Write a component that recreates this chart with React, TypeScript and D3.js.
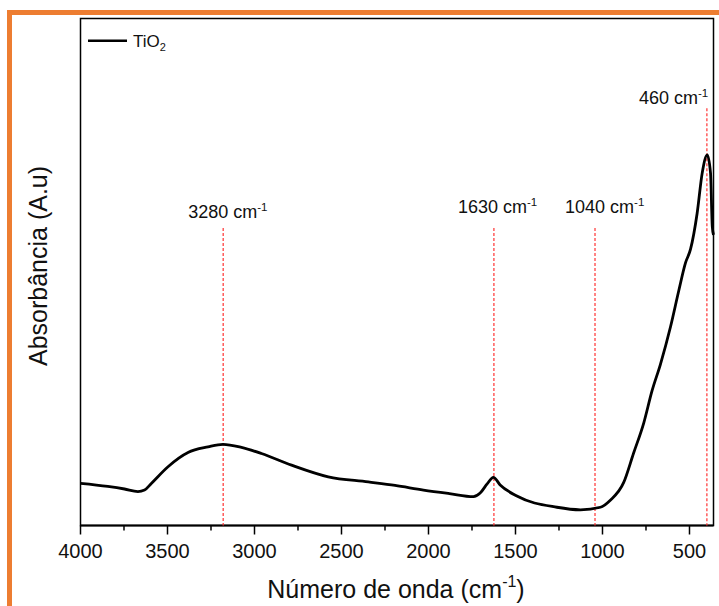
import React from "react";
import * as d3 from "d3";

// Spectrum: wavenumber (cm-1) and absorbance (a.u.)
const wavenumber = [
  4000, 3843, 3747, 3670, 3632, 3593, 3497, 3382, 3267, 3181, 3075, 2960, 2787, 2576, 2346, 2192,
  2029, 1880, 1742, 1703, 1663, 1627, 1588, 1492, 1262, 1127, 1012, 955, 878, 821, 763, 715, 667,
  609, 561, 523, 494, 456, 427, 398, 379, 369, 362,
];
const absorbance = [
  0.083, 0.077, 0.072, 0.067, 0.070, 0.083, 0.116, 0.144, 0.155, 0.160, 0.154, 0.142, 0.119, 0.096,
  0.086, 0.079, 0.070, 0.063, 0.057, 0.064, 0.082, 0.095, 0.080, 0.058, 0.036, 0.031, 0.036, 0.050,
  0.085, 0.143, 0.202, 0.266, 0.318, 0.392, 0.464, 0.518, 0.545, 0.616, 0.695, 0.731, 0.695, 0.590,
  0.573,
];

const seriesName = "TiO";
const seriesSub = "2";

// Marked bands (label text, where the dashed line is drawn, top of the line)
const bandLabels = ["3280", "1630", "1040", "460"];
const bandPositions = [3180, 1624, 1043, 400];
const bandTops = [0.587, 0.587, 0.587, 0.823];
// label placement relative to line (pixels)
const bandLabelDx = [-35, -36, -30, -68];
const bandLabelDy = [-10, -15, -15, -4];

const xTicks = [4000, 3500, 3000, 2500, 2000, 1500, 1000, 500];
const xMinorTicks = [3750, 3250, 2750, 2250, 1750, 1250, 750];

const W = 719;
const H = 606;
const M = { left: 80.5, right: 713.5, top: 18.5, bottom: 525.5 };
const FONT = "'Liberation Sans', Arial, sans-serif";

export default function App() {
  React.useEffect(() => {
    document.body.style.margin = "0";
  }, []);

  const x = d3.scaleLinear().domain([4000, 362]).range([M.left, M.right]);
  const y = d3.scaleLinear().domain([0, 1]).range([M.bottom, M.top]);

  const pts: [number, number][] = wavenumber.map((w, i) => [w, absorbance[i]]);
  const line = d3
    .line<[number, number]>()
    .x((d) => x(d[0]))
    .y((d) => y(d[1]))
    .curve(d3.curveMonotoneX);

  const orange = "#ED7D31";

  return (
    <svg
      width={W}
      height={H}
      style={{ position: "absolute", left: 0, top: 0, background: "#fff" }}
      fontFamily={FONT}
    >
      <rect x={0} y={0} width={W} height={H} fill="#fff" />
      {/* orange frame */}
      <line x1={7} x2={W} y1={12.5} y2={12.5} stroke={orange} strokeWidth={5} />
      <line x1={9.5} x2={9.5} y1={10} y2={H} stroke={orange} strokeWidth={5} />

      {/* plot frame */}
      <rect
        x={M.left}
        y={M.top}
        width={M.right - M.left}
        height={M.bottom - M.top}
        fill="none"
        stroke="#000"
        strokeWidth={1.5}
      />
      <line x1={M.left} x2={M.right} y1={M.bottom} y2={M.bottom} stroke="#000" strokeWidth={2} />

      {/* ticks */}
      {xTicks.map((t) => (
        <g key={t}>
          <line x1={x(t)} x2={x(t)} y1={M.bottom} y2={M.bottom + 9} stroke="#000" strokeWidth={1.5} />
          <text x={x(t)} y={558} textAnchor="middle" fontSize={20} fill="#111">
            {t}
          </text>
        </g>
      ))}
      {xMinorTicks.map((t) => (
        <line key={t} x1={x(t)} x2={x(t)} y1={M.bottom} y2={M.bottom + 5} stroke="#000" strokeWidth={1.5} />
      ))}

      {/* dashed band lines */}
      {bandPositions.map((b, i) => (
        <g key={b}>
          <line
            x1={x(b)}
            x2={x(b)}
            y1={y(bandTops[i])}
            y2={M.bottom}
            stroke="#f33"
            strokeWidth={1.2}
            strokeDasharray="3,2"
          />
          <text
            x={x(b) + bandLabelDx[i]}
            y={y(bandTops[i]) + bandLabelDy[i]}
            fontSize={18}
            fill="#111"
          >
            {bandLabels[i]} cm
            <tspan fontSize={11.5} dy={-7}>
              -1
            </tspan>
          </text>
        </g>
      ))}

      {/* spectrum */}
      <path d={line(pts) ?? ""} fill="none" stroke="#000" strokeWidth={2.8} strokeLinejoin="round" />

      {/* legend */}
      <line x1={88} x2={127} y1={40.7} y2={40.7} stroke="#000" strokeWidth={2.5} />
      <text x={133} y={46.5} fontSize={17} fill="#111">
        {seriesName}
        <tspan fontSize={11} dy={4}>
          {seriesSub}
        </tspan>
      </text>

      {/* axis titles */}
      <text x={396} y={598} textAnchor="middle" fontSize={25} fill="#111">
        Número de onda (cm
        <tspan fontSize={16} dy={-11}>
          -1
        </tspan>
        <tspan dy={11}>)</tspan>
      </text>
      <text
        transform={`translate(47,266) rotate(-90)`}
        textAnchor="middle"
        fontSize={25}
        fill="#111"
      >
        Absorbância (A.u)
      </text>
    </svg>
  );
}
